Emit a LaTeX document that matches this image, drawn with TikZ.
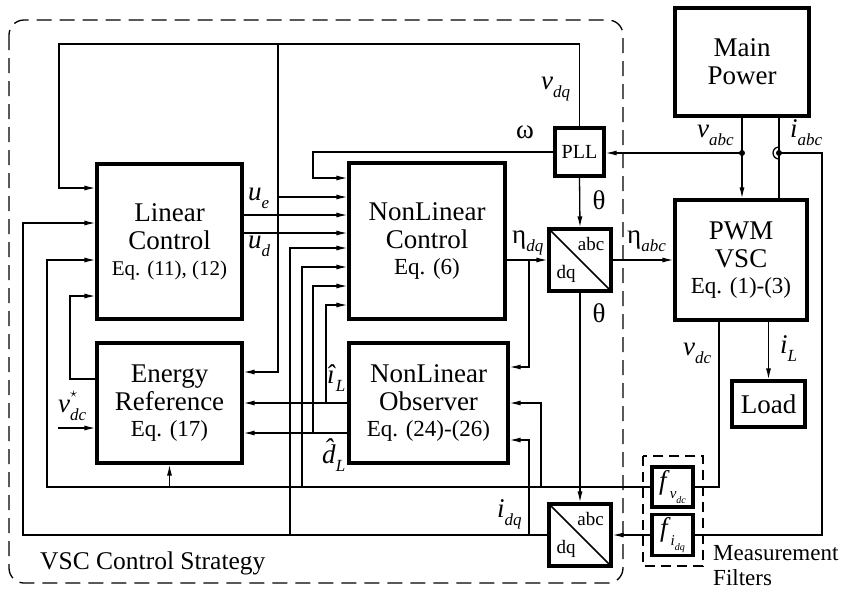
\documentclass[tikz,border=0pt]{standalone}
\usepackage{fontspec}
\setmainfont{Liberation Serif}
\usetikzlibrary{arrows.meta}
\newcommand\bigf{\fontsize{27}{28}\selectfont}
\newcommand\eqf{\fontsize{23}{26}\selectfont}
\newcommand\eqsf{\fontsize{21}{24}\selectfont}
\newcommand\subf{\fontsize{17}{17}\selectfont}
\newcommand\smf{\fontsize{19}{19}\selectfont}
\newcommand\vsub[2]{\textit{#1}\raisebox{-0.3em}{\subf\textit{#2}}}
\newcommand\dhat{\ooalign{\textit{d}\cr\hidewidth\raisebox{0.22em}{\textit{ˆ}}\hidewidth\cr}}
\begin{document}
\begin{tikzpicture}[x=1pt,y=-1pt,
 box/.style={draw,line width=3.1pt,inner sep=0pt,align=center,font=\bigf},
 ln/.style={line width=1.3pt},
 arr/.style={ln,-{Latex[length=11pt,width=5pt]}},
 lab/.style={inner sep=0pt,font=\bigf},
 sm/.style={inner sep=0pt,font=\smf,anchor=base},
 frame/.style={line width=1.3pt,dash pattern=on 15pt off 8pt}]
\useasboundingbox (0,0) rectangle (842,590);

% frames
\draw[frame,rounded corners=15pt] (9,20) rectangle (623,583);
\draw[line width=1.3pt,dash pattern=on 10pt off 6pt] (643,456) rectangle (703,566);

% blocks
\node[box,minimum width=134pt,minimum height=108pt] (mp) at (742,62) {Main\\Power};
\node[box,minimum width=132pt,minimum height=120pt] (pwm) at (741,260) {PWM\\VSC\\[-2pt]{\eqf Eq. (1)-(3)}};
\node[box,minimum width=73pt,minimum height=46pt] (load) at (768.5,404) {Load};
\node[box,minimum width=145pt,minimum height=155pt] (lc) at (169.5,241.5) {Linear\\Control\\[-2pt]{\eqsf Eq. (11), (12)}};
\node[box,minimum width=156pt,minimum height=156pt] (nlc) at (427,241) {NonLinear\\Control\\[-2pt]{\eqf Eq. (6)}};
\node[box,minimum width=145pt,minimum height=120pt] (er) at (169.5,403) {Energy\\Reference\\[-2pt]{\eqf Eq. (17)}};
\node[box,minimum width=159pt,minimum height=120pt] (nlo) at (428.5,403) {NonLinear\\Observer\\[-2pt]{\eqf Eq. (24)-(26)}};
\node[box,minimum width=49pt,minimum height=48pt,font=\fontsize{20}{20}\selectfont] (pll) at (579.5,152) {PLL};
\node[box,minimum width=62pt,minimum height=62pt] (t1) at (580,260) {};
\node[box,minimum width=62pt,minimum height=62pt] (t2) at (580,535) {};
\node[box,minimum width=41pt,minimum height=40pt] (fv) at (672.5,487)
  {\textit{f}\raisebox{-0.35em}{\fontsize{15}{15}\selectfont\textit{v}\raisebox{-0.3em}{\fontsize{10}{10}\selectfont\textit{dc}}}};
\node[box,minimum width=41pt,minimum height=41pt] (fi) at (672.5,535)
  {\textit{f}\raisebox{-0.35em}{\fontsize{15}{15}\selectfont\textit{i}\raisebox{-0.3em}{\fontsize{10}{10}\selectfont\textit{dq}}}};

% transform diagonals and labels
\draw[line width=1.6pt] (t1.north west) -- (t1.south east);
\draw[line width=1.6pt] (t2.north west) -- (t2.south east);
\node[sm] (t1a) at (591,250) {abc};
\node[sm] (t1d) at (566,278) {dq};
\node[sm] (t2a) at (590.5,525) {abc};
\node[sm] (t2d) at (566,553) {dq};

% top loop (v_dq)
\coordinate (ja) at (278,44);
\draw[arr] (pll.north) |- (59,44) |- (lc.west |- 0,188);
\draw[arr] (ja) |- (er.east |- 0,372);
\draw[arr] (278,197) -- (nlc.west |- 0,197);
% omega
\draw[arr] (pll.west) -| (313,178) -- (nlc.west |- 0,178);
% u_e, u_d
\draw[arr] (lc.east |- 0,215) -- (nlc.west |- 0,215);
\draw[arr] (lc.east |- 0,233) -- (nlc.west |- 0,233);
% eta
\draw[arr] (nlc.east |- t1.west) -- (t1.west);
\draw[arr] (529,260) |- (nlo.east |- 0,367);
% theta
\draw[arr] (pll.south) -- (t1.north);
\draw[arr] (t1.south) -- (t2.north);
\draw[arr] (t1.east) -- (pwm.west |- t1.east);
% v_abc
\coordinate (vd) at (742,153);
\draw[arr] (mp.south) -- (pwm.north -| mp.south);
\fill (vd) circle[radius=3pt];
\draw[arr] (vd) -- (pll.east |- vd);
% i_abc
\coordinate (id) at (779,153);
\draw[ln] (mp.south -| 779,0) -- (pwm.north -| 779,0);
\fill (id) circle[radius=3pt];
\draw[ln] (779,147) arc[start angle=90,end angle=270,radius=6pt];
\draw[ln] (id) -| (822,535) -- (fi.east);
\draw[arr] (fi.west) -- (t2.east);
% v_dc
\draw[ln] (pwm.south -| 719,0) |- (fv.east);
\draw[arr] (fv.west) -| (47,260) -- (lc.west |- 0,260);
\draw[arr] (er.south |- fv.west) -- (er.south);
\draw[arr] (302,487) |- (nlc.west |- 0,267);
\draw[arr] (541,487) |- (nlo.east |- 0,403);
% i_dq
\draw[arr] (t2.west) -| (23,223) -- (lc.west |- 0,223);
\draw[arr] (290,535) |- (nlc.west |- 0,248);
\draw[arr] (529,535) |- (nlo.east |- 0,440);
% observer outputs
\draw[arr] (nlo.west |- 0,403) -- (er.east |- 0,403);
\draw[arr] (nlo.west |- 0,433) -- (er.east |- 0,433);
\draw[arr] (326,403) |- (nlc.west |- 0,305);
\draw[arr] (313,433) |- (nlc.west |- 0,286);
% energy reference feedback and input
\draw[arr] (er.west |- 0,379) -| (70,296) -- (lc.west |- 0,296);
\draw[arr] (58,428) -- (er.west |- 0,428);
% load current
\draw[arr] (pwm.south -| load.north) -- (load.north);

% labels
\node[lab,anchor=base west] (lvdq) at (541,89) {\vsub{v}{dq}};
\node[lab,anchor=base] (lw) at (525,138) {ω};
\node[lab,anchor=base] (lth1) at (599,209) {θ};
\node[lab,anchor=base west] (letadq) at (512,243) {η\raisebox{-0.3em}{\subf\textit{dq}}};
\node[lab,anchor=base west] (letaabc) at (627,243) {η\raisebox{-0.3em}{\subf\textit{abc}}};
\node[lab,anchor=base west] (lvabc) at (697,137) {\vsub{v}{abc}};
\node[lab,anchor=base west] (liabc) at (790,137) {\vsub{i}{abc}};
\node[lab,anchor=base west] (lue) at (248,200) {\vsub{u}{e}};
\node[lab,anchor=base west] (lud) at (248,248) {\vsub{u}{d}};
\node[lab,anchor=base] (lth2) at (599,322) {θ};
\node[lab,anchor=base west] (lvdc) at (683,355) {\vsub{v}{dc}};
\node[lab,anchor=base west] (liL) at (780,353) {\vsub{i}{L}};
\node[lab,anchor=base west] (lihat) at (327,383) {\vsub{î}{L}};
\node[lab,anchor=base west] (ldhat) at (322,463) {\dhat\raisebox{-0.3em}{\subf\textit{L}}};
\node[lab,anchor=base west] (lvstar) at (58,412) {\textit{v}\rlap{\raisebox{0.55em}{\fontsize{14}{14}\selectfont$\star$}}\raisebox{-0.3em}{\subf\textit{dc}}};
\node[lab,anchor=base west] (lidq) at (497,517) {\vsub{i}{dq}};

% captions
\node[inner sep=0pt,anchor=base west,font=\fontsize{25.5}{28}\selectfont] (vsc) at (40,569) {VSC Control Strategy};
\node[inner sep=0pt,anchor=north west,align=left,font=\fontsize{23}{25}\selectfont] (mf) at (713,545) {Measurement\\Filters};
\end{tikzpicture}
\end{document}
